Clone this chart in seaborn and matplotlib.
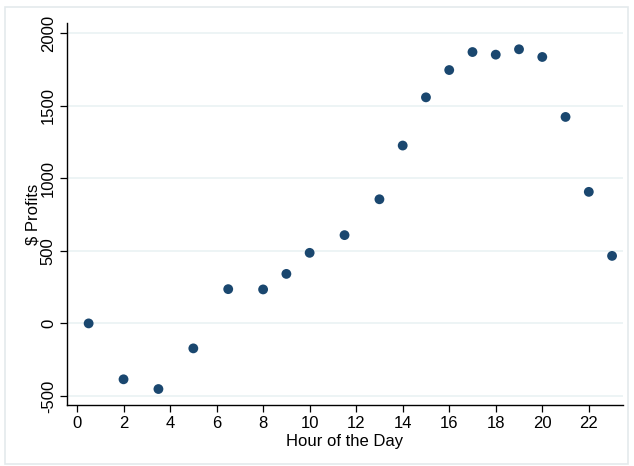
import pandas as pd
import matplotlib
matplotlib.use("Agg")
import matplotlib.pyplot as plt
import seaborn as sns
from matplotlib.patches import Rectangle

# data
hours = [0.5, 2, 3.5, 5, 6.5, 8, 9, 10, 11.5, 13, 14, 15, 16, 17, 18, 19, 20, 21, 22, 23]
profits = [0, -385, -452, -172, 236, 234, 341, 486, 608, 855, 1225, 1557,
           1745, 1869, 1851, 1888, 1835, 1422, 906, 465]
x_ticks = list(range(0, 23, 2))
y_ticks = [-500, 0, 500, 1000, 1500, 2000]

df = pd.DataFrame({"hour": hours, "profit": profits})

sns.set_theme(style="white")
plt.rcParams['font.family'] = ['Liberation Sans', 'DejaVu Sans']
plt.rcParams['axes.unicode_minus'] = False

fig = plt.figure(figsize=(6.34, 4.66), dpi=100)
fig.patch.set_facecolor("white")
# faint outer frame like Stata's graph region
fig.patches.append(Rectangle((5 / 634, 2 / 466), 623 / 634, 457 / 466,
                             transform=fig.transFigure, fill=False,
                             edgecolor="#e4eaec", linewidth=1.2))

ax = fig.add_axes([67 / 634, 61 / 466, 556 / 634, 382 / 466])
sns.scatterplot(data=df, x="hour", y="profit", ax=ax, color="#1a476f",
                s=50, edgecolor="none", zorder=3)

ax.set_xlim(-0.43, 23.47)
ax.set_ylim(-562, 2069)
ax.set_xticks(x_ticks)
ax.set_yticks(y_ticks)
ax.yaxis.grid(True, color="#eaf2f3", linewidth=1.2)
ax.xaxis.grid(False)
ax.set_axisbelow(True)

for side in ["top", "right"]:
    ax.spines[side].set_visible(False)
for side in ["left", "bottom"]:
    ax.spines[side].set_color("black")
    ax.spines[side].set_linewidth(1.0)

ax.tick_params(axis="both", direction="out", length=5, width=0.9,
               color="black", labelsize=12, labelcolor="black",
               left=True, bottom=True, pad=3)
for lbl in ax.get_yticklabels():
    lbl.set_rotation(90)
    lbl.set_va("center")

ax.set_xlabel("Hour of the Day", fontsize=12, color="black", labelpad=2)
ax.set_ylabel("\\$ Profits", fontsize=12, color="black", labelpad=0)

fig.savefig("out.png", dpi=100)
